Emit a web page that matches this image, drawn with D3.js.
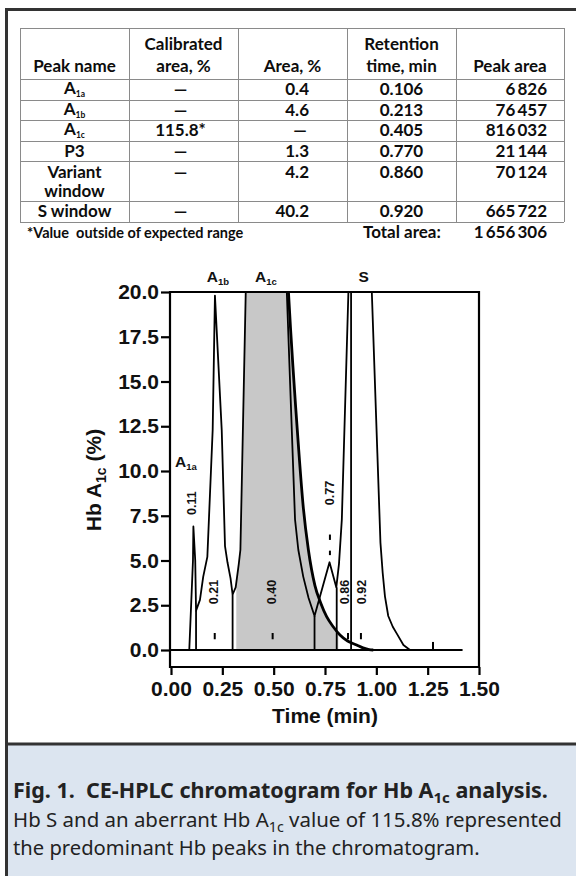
<!DOCTYPE html>
<html><head><meta charset="utf-8">
<script src="https://cdn.jsdelivr.net/npm/d3@7"></script>
<style>
html,body{margin:0;padding:0;background:#fff;}
svg{display:block;}
</style></head><body>
<svg id="c" width="576" height="876"></svg>
<script>
// ================= DATA =================
// Table
const peakNames      = ["A|1a", "A|1b", "A|1c", "P3", "Variant window", "S window"];
const calibratedArea = ["—", "—", "115.8*", "—", "—", "—"];
const areaPct        = ["0.4", "4.6", "—", "1.3", "4.2", "40.2"];
const retentionTime  = ["0.106", "0.213", "0.405", "0.770", "0.860", "0.920"];
const peakArea       = [6826, 76457, 816032, 21144, 70124, 665722];
const totalArea      = 1656306;

// Chromatogram axes
const yTicks = [0, 2.5, 5, 7.5, 10, 12.5, 15, 17.5, 20];
const xTicks = [0, 0.25, 0.5, 0.75, 1.0, 1.25, 1.5];

// Main (thin) trace: [time, Hb %]  (values above 20 are off-scale)
const traceMain = [
  [0.089,0],[0.107,5.0],[0.109,6.9],[0.118,5.0],[0.122,2.2],[0.141,2.8],[0.157,4.1],
  [0.177,5.2],[0.203,12.3],[0.214,19.8],[0.247,12.3],[0.263,5.8],[0.275,4.9],[0.290,4.0],
  [0.300,3.1],[0.315,3.5],[0.330,4.8],[0.338,5.6],[0.364,20],[0.40,34],[0.52,34],
  [0.564,20],[0.604,7.3],[0.620,5.6],[0.644,4.1],[0.670,2.9],[0.699,1.9],[0.772,4.9],
  [0.805,3.5],[0.818,4.8],[0.832,7.3],[0.864,20],[0.87,26],[0.97,26],[0.978,20],
  [1.005,11],[1.020,6.0],[1.031,4.3],[1.042,3.0],[1.058,1.9],[1.080,1.3],[1.099,0.93],
  [1.132,0.28],[1.164,0]
];
// Thick A1c tail
const traceTail = [
  [0.565,21.5],[0.572,20],[0.62,11.5],[0.644,8.0],[0.669,5.6],[0.701,3.6],[0.73,2.6],
  [0.758,1.86],[0.79,1.3],[0.823,0.84],[0.86,0.5],[0.904,0.28],[0.935,0.12],[0.965,0.02],[0.985,0]
];
// Shaded A1c peak area
const fillA1c = [
  [0.318,0],[0.318,3.6],[0.330,4.8],[0.338,5.6],[0.364,20],[0.40,34],[0.52,34],[0.565,21.5],
  [0.572,20],[0.62,11.5],[0.644,8.0],[0.669,5.6],[0.701,3.6],[0.73,2.6],[0.758,1.86],
  [0.79,1.3],[0.815,0.9],[0.815,0]
];
// Vertical drop lines: [time, top value]
const dropLines = [[0.122,2.2],[0.300,3.1],[0.699,1.9],[0.807,3.5],[0.877,22]];
const baselineSpan = [0, 1.42];
// Short markers: [time, v0, v1]
const markers = [[0.213,0.6,0.95],[0.495,0.6,0.95],[0.862,0.6,0.95],[0.925,0.6,0.95],
                 [0.774,5.3,5.55],[0.774,6.15,6.45],[1.276,0,0.45]];
// Retention-time labels
const rtLabels = ["0.11","0.21","0.40","0.77","0.86","0.92"];
const rtLabelT = [0.102, 0.209, 0.494, 0.774, 0.848, 0.928];
const rtLabelV = [8.2, 3.24, 3.24, 8.77, 3.24, 3.24];
// Peak name labels
const peakLabels = ["A|1a","A|1b","A|1c","S"];
const peakLabelT = [0.020, 0.174, 0.409, 0.913];
const peakLabelV = [10.24, 20.56, 20.56, 20.56];

// ================= DRAW =================
const svg = d3.select("#c");
const PLOT_FONT = "'Liberation Sans', Arial, sans-serif";
const TABLE_FONT = "Lato, 'Open Sans', sans-serif";

// ---- frame & caption box ----
svg.append("rect").attr("x",7).attr("y",745).attr("width",569).attr("height",131).attr("fill","#dce5f0");
svg.append("path").attr("d","M5,9.5H576").attr("stroke","#333").attr("stroke-width",3);
svg.append("path").attr("d","M6.5,8V876").attr("stroke","#333").attr("stroke-width",3);
svg.append("path").attr("d","M6.5,744H576").attr("stroke","#333").attr("stroke-width",3);

// ---- table ----
const colX = [20,129,238,347,456,564];
const rowY = [28,79,100,120,141,161,201,222];
const tbl = svg.append("g").attr("font-family",TABLE_FONT).attr("font-weight",700).attr("font-size",17).attr("fill","#0d0d0d");
const grid = tbl.append("g").attr("stroke","#8a8a8a").attr("stroke-width",1).attr("fill","none");
rowY.forEach(y=>grid.append("path").attr("d",`M${colX[0]},${y+0.5}H${colX[5]}`));
colX.forEach(x=>grid.append("path").attr("d",`M${x+0.5},${rowY[0]}V${rowY[7]}`));
const cc = i => (colX[i]+colX[i+1])/2;
function txt(x,y,s,anchor){ return tbl.append("text").attr("x",x).attr("y",y).attr("text-anchor",anchor||"middle").text(s); }
txt(cc(0),72,"Peak name");
txt(cc(1),50,"Calibrated"); txt(cc(1),72,"area, %");
txt(cc(2),72,"Area, %");
txt(cc(3),50,"Retention"); txt(cc(3),72,"time, min");
txt(cc(4),72,"Peak area");
const fmtArea = n => d3.format(",")(n).replace(/,/g,"\u2009");
function nameText(x,y,s){
  const t = tbl.append("text").attr("x",x).attr("y",y).attr("text-anchor","middle");
  const parts = s.split("|");
  if(parts[1]){
    t.append("tspan").attr("dy",-1).text(parts[0]);
    t.append("tspan").attr("font-size",8.5).attr("dy",3).text(parts[1]);
  } else t.text(parts[0]);
  return t;
}
peakNames.forEach((nm,i)=>{
  const top=rowY[i+1], bot=rowY[i+2];
  const variant = nm.startsWith("Variant");
  const base = variant ? top+17 : (top+bot)/2+5.5;
  if(variant){ txt(cc(0),base,"Variant"); txt(cc(0),base+19,"window"); }
  else nameText(cc(0),base,nm);
  txt(cc(1)-3,base,calibratedArea[i]);
  if(areaPct[i]==="—") txt(300,base,areaPct[i]); else txt(309,base,areaPct[i],"end");
  txt(cc(3),base,retentionTime[i]);
  txt(547,base,fmtArea(peakArea[i]),"end");
});
tbl.append("text").attr("x",27).attr("y",238).attr("font-size",14.5).attr("xml:space","preserve").style("white-space","pre").text("*Value  outside of expected range");
txt(363,238,"Total area:","start");
txt(547,238,fmtArea(totalArea),"end");

// ---- chart ----
const x = d3.scaleLinear().domain([0,1.5]).range([171,479]);
const y = d3.scaleLinear().domain([0,20]).range([650,292]);
const axisBottomY = 667, axisLeftX = 170;

svg.append("clipPath").attr("id","clip").append("rect")
  .attr("x",axisLeftX).attr("y",y(20)).attr("width",x(1.5)-axisLeftX).attr("height",axisBottomY-y(20));
const plot = svg.append("g").attr("clip-path","url(#clip)");

plot.append("path").datum(fillA1c)
  .attr("d", d3.area().x(d=>x(d[0])).y0(y(0)).y1(d=>y(d[1])))
  .attr("fill","#c8c8c8");

const line = d3.line().x(d=>x(d[0])).y(d=>y(d[1]));
plot.append("path").datum(baselineSpan.map(t=>[t,0])).attr("d",line).attr("stroke","#000").attr("stroke-width",2).attr("fill","none");
plot.selectAll(".drop").data(dropLines).join("path")
  .attr("d",d=>line([[d[0],0],[d[0],d[1]]])).attr("stroke","#000").attr("stroke-width",1.8).attr("fill","none");
plot.append("path").datum(traceMain).attr("d",line).attr("stroke","#000").attr("stroke-width",1.8).attr("fill","none").attr("stroke-linejoin","round");
plot.append("path").datum(traceTail).attr("d",d3.line().x(d=>x(d[0])).y(d=>y(d[1])).curve(d3.curveMonotoneX))
  .attr("stroke","#000").attr("stroke-width",2.8).attr("fill","none");
plot.selectAll(".mk").data(markers).join("path")
  .attr("d",d=>line([[d[0],d[1]],[d[0],d[2]]])).attr("stroke","#000").attr("stroke-width",2).attr("fill","none");

// rotated retention-time labels
plot.selectAll(".rt").data(rtLabels).join("text")
  .attr("transform",(d,i)=>`translate(${x(rtLabelT[i])},${y(rtLabelV[i])}) rotate(-90)`)
  .attr("text-anchor","middle").attr("dominant-baseline","central")
  .attr("font-family",PLOT_FONT).attr("font-weight",700).attr("font-size",12.5).attr("fill","#111")
  .text(d=>d);

// box
const box = svg.append("g").attr("stroke","#000").attr("stroke-width",2.2).attr("fill","none");
box.append("path").attr("d",`M${axisLeftX},${y(20)}H${x(1.5)}V${axisBottomY}`);
box.append("path").attr("d",`M${axisLeftX},${y(20)-1}V${axisBottomY}H${x(1.5)}`);

// axes
const yAxis = svg.append("g").attr("transform",`translate(${axisLeftX},0)`)
  .call(d3.axisLeft(y).tickValues(yTicks).tickFormat(d3.format(".1f")).tickSize(9).tickPadding(2));
const xAxis = svg.append("g").attr("transform",`translate(0,${axisBottomY})`)
  .call(d3.axisBottom(x).tickValues(xTicks).tickFormat(d3.format(".2f")).tickSize(8).tickPadding(6));
[yAxis,xAxis].forEach(g=>{
  g.select(".domain").remove();
  g.selectAll("line").attr("stroke","#000").attr("stroke-width",2.2);
  g.selectAll("text").attr("font-family",PLOT_FONT).attr("font-weight",700).attr("font-size",21).attr("fill","#111");
});

// axis titles
svg.append("text").attr("x",(x(0)+x(1.5))/2).attr("y",723).attr("text-anchor","middle")
  .attr("font-family",PLOT_FONT).attr("font-weight",700).attr("font-size",21).attr("fill","#111").text("Time (min)");
const yt = svg.append("text").attr("transform",`translate(101,480) rotate(-90)`).attr("text-anchor","middle")
  .attr("font-family",PLOT_FONT).attr("font-weight",700).attr("font-size",21).attr("fill","#111");
yt.append("tspan").text("Hb A");
yt.append("tspan").attr("font-size",14).attr("dy",5).text("1c");
yt.append("tspan").attr("dy",-5).text(" (%)");

// peak name labels
peakLabels.forEach((s,i)=>{
  const t = svg.append("text").attr("x",x(peakLabelT[i])).attr("y",y(peakLabelV[i]))
    .attr("font-family",PLOT_FONT).attr("font-weight",700).attr("font-size",15.5).attr("fill","#111");
  const p = s.split("|");
  t.append("tspan").text(p[0]);
  if(p[1]) t.append("tspan").attr("font-size",9.5).attr("dy",3).text(p[1]);
});

// ---- caption ----
const CAP_FONT = "'Noto Sans', 'Open Sans', sans-serif";
function capLine(yb, weight, size, parts, target){
  const t = svg.append("text").attr("x",0).attr("y",0).attr("font-family",CAP_FONT)
    .attr("font-weight",weight).attr("font-size",size).attr("fill","#222").attr("xml:space","preserve").style("white-space","pre");
  parts.forEach(p=>{
    if(p.sub) t.append("tspan").attr("font-size",size*0.7).attr("dy",5).text(p.sub);
    else t.append("tspan").attr("dy",p.after?-5:0).text(p.s);
  });
  const w = t.node().getComputedTextLength();
  t.attr("transform",`translate(13,${yb}) scale(${target/w},1)`);
}
capLine(798,700,21,[{s:"Fig. 1.  CE-HPLC chromatogram for Hb A"},{sub:"1c"},{s:" analysis.",after:true}],535);
capLine(827,400,19.5,[{s:"Hb S and an aberrant Hb A"},{sub:"1c"},{s:" value of 115.8% represented",after:true}],549);
capLine(855,400,19.5,[{s:"the predominant Hb peaks in the chromatogram."}],467);
</script>
</body></html>
